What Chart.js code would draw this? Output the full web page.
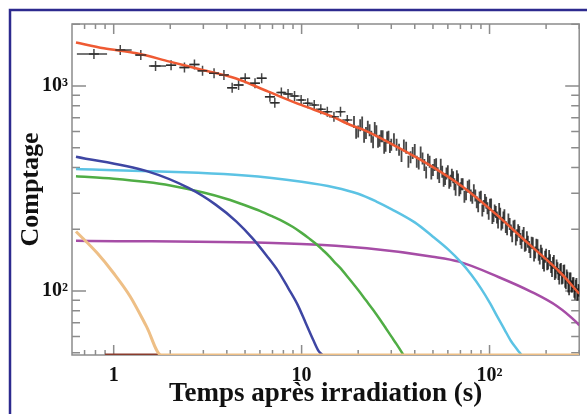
<!DOCTYPE html>
<html>
<head>
<meta charset="utf-8">
<script src="https://cdn.jsdelivr.net/npm/chart.js@4.4.1/dist/chart.umd.min.js"></script>
<style>
  html, body { margin: 0; padding: 0; background: #fff; }
  #wrap { width: 587px; height: 414px; }
</style>
</head>
<body>
<div id="wrap"><canvas id="decay" width="587" height="414"></canvas></div>
<script>
// -----------------------------
// Data
// -----------------------------
const xTickValues = [1, 10, 100];
const xTickLabels = ["1", "10", "10²"];
const yTickValues = [100, 1000];
const yTickLabels = ["10²", "10³"];
const xMinorTicks = [0.7, 0.8, 0.9, 2, 3, 4, 5, 6, 7, 8, 9, 20, 30, 40, 50, 60, 70, 80, 90, 200, 300];
const yMinorTicks = [50, 60, 70, 80, 90, 200, 300, 400, 500, 600, 700, 800, 900, 2000];

// sparse early measurements (crosses with bin widths)
const sparseT   = [0.785, 1.084, 1.394, 1.67, 2.02, 2.38, 2.69, 2.97, 3.42, 3.86, 4.27, 4.62, 5.01, 5.65, 6.13, 6.78, 7.2, 7.8, 8.47, 9.17, 9.94, 10.78, 11.67, 12.65, 13.7, 14.86, 16.1, 17.5];
const sparseC   = [1432, 1498, 1417, 1252, 1262, 1231, 1273, 1188, 1153, 1132, 981, 1011, 1090, 1031, 1090, 887, 829, 928, 914, 894, 855, 823, 808, 770, 749, 708, 749, 683];
const sparseTLo = [0.637, 1.02, 1.30, 1.54, 1.90, 2.24, 2.53, 2.80, 3.22, 3.64, 4.02, 4.35, 4.72, 5.33, 5.78, 6.39, 6.85, 7.45, 8.1, 8.8, 9.6, 10.45, 11.35, 12.3, 13.35, 14.5, 15.7, 17.1];
const sparseTHi = [0.922, 1.247, 1.49, 1.90, 2.15, 2.53, 2.86, 3.15, 3.63, 4.09, 4.53, 4.90, 5.31, 5.99, 6.50, 7.19, 7.55, 8.15, 8.85, 9.55, 10.3, 11.1, 12.0, 13.0, 14.05, 15.2, 16.5, 17.9];

// dense later measurements (two interleaved runs of bins)
const denseT = [19, 20, 21, 22, 23, 24, 25, 26, 27, 28, 29, 30, 32, 34, 36, 38, 40, 42, 44, 46, 48, 50, 52, 54, 56, 58, 60, 62, 64, 66, 68, 70, 72, 75, 78, 81, 84, 87, 90, 93, 96, 99, 102, 105, 108, 111, 114, 117, 120, 124, 128, 132, 136, 140, 144, 148, 152, 156, 160, 165, 170, 175, 180, 185, 190, 195, 200, 205, 210, 215, 220, 225, 230, 235, 240, 245, 250, 255, 260, 265, 270, 275, 280, 285, 290, 295, 300];
const denseC = [667, 599, 663, 590, 608, 532, 601, 540, 569, 511, 566, 516, 516, 456, 500, 449, 487, 418, 443, 378, 427, 389, 415, 360, 381, 352, 384, 345, 359, 312, 350, 317, 332, 296, 327, 285, 292, 259, 288, 260, 269, 238, 264, 232, 243, 216, 238, 215, 234, 200, 212, 185, 208, 187, 194, 172, 192, 168, 174, 155, 171, 154, 167, 144, 152, 133, 150, 136, 141, 125, 140, 123, 129, 115, 128, 116, 126, 109, 116, 102, 115, 105, 109, 97, 108, 96, 100];
const dense2T = [19.5, 20.5, 21.5, 22.5, 23.5, 24.5, 25.5, 26.5, 27.5, 28.5, 29.5, 31, 33, 35, 37, 39, 41, 43, 45, 47, 49, 51, 53, 55, 57, 59, 61, 63, 65, 67, 69, 71, 73.5, 76.5, 79.5, 82.5, 85.5, 88.5, 91.5, 94.5, 97.5, 100.5, 103.5, 106.5, 109.5, 112.5, 115.5, 118.5, 122, 126, 130, 134, 138, 142, 146, 150, 154, 158, 162.5, 167.5, 172.5, 177.5, 182.5, 187.5, 192.5, 197.5, 202.5, 207.5, 212.5, 217.5, 222.5, 227.5, 232.5, 237.5, 242.5, 247.5, 252.5, 257.5, 262.5, 267.5, 272.5, 277.5, 282.5, 287.5, 292.5, 297.5];
const dense2C = [592, 644, 566, 632, 566, 623, 534, 569, 499, 560, 504, 549, 488, 512, 427, 471, 427, 474, 412, 436, 374, 412, 375, 413, 345, 374, 337, 369, 332, 363, 310, 332, 288, 322, 292, 310, 271, 286, 247, 278, 253, 263, 227, 247, 228, 251, 211, 228, 205, 223, 197, 206, 178, 198, 179, 186, 166, 183, 164, 172, 149, 168, 150, 157, 137, 147, 135, 148, 131, 137, 121, 133, 121, 127, 115, 125, 111, 119, 105, 115, 105, 109, 99, 106, 96, 101];

// fitted total and components
const sumT = [0.63, 0.886, 1.325, 1.984, 2.97, 4.44, 6.65, 9.94, 14.5, 18.2, 21.4, 32, 47.8, 71.6, 107, 160, 240, 300];
const sumC = [1630, 1527, 1444, 1314, 1197, 1090, 938, 808, 710, 645, 610, 506, 412, 323, 239, 171, 122, 97];

const blueT = [0.63, 1.5, 2.5, 3.5, 4.5, 5.5, 6.5, 7.5, 8.5, 9.5, 10.5, 11.5, 12.3, 12.9];
const blueC = [452, 384, 318, 263, 218, 180, 149, 125, 103, 86, 70, 58, 51, 48.7];

const cyanT = [0.63, 5, 10, 15, 20, 25, 30, 40, 50, 60, 70, 80, 90, 100, 110, 120, 130, 140, 148];
const cyanC = [393, 366, 341, 320, 298, 273, 251, 216, 184, 160, 139, 120, 103, 88, 75, 65, 57, 52, 48.7];

const greenT = [0.63, 1, 1.5, 2, 3, 4, 5, 6, 7, 8, 9, 10, 11, 12, 13, 14, 15, 16, 18, 20, 22, 24, 26, 28, 30, 32, 34, 34.75];
const greenC = [363, 353, 340, 327, 302, 281, 262, 246, 231, 218, 205, 192, 180, 169, 158, 148, 138, 130, 114, 101, 90, 81, 73, 66, 60, 55, 50.4, 48.7];

const magentaT = [0.63, 9.94, 22.26, 49.8, 68.8, 111.5, 167, 230, 287, 300];
const magentaC = [176, 169.5, 161.5, 147, 139, 117, 99, 84, 71, 68];

const tanT = [0.63, 0.817, 1.0, 1.224, 1.496, 1.79, 10, 100, 300];
const tanC = [195, 153, 122, 94, 67, 48.7, 48.7, 48.7, 48.7];

const brownT = [0.9, 1.76];
const brownC = [48.7, 48.7];

const Y_MIN = 48.7, Y_MAX = 2006, X_MIN = 0.631, X_MAX = 300;

const pts = (xs, ys) => xs.map((x, i) => ({ x, y: ys[i] }));

// -----------------------------
// Frame, inward ticks, bin bars
// -----------------------------
const framePlugin = {
  id: "framePlugin",
  beforeDraw(chart) {
    const ctx = chart.ctx;
    ctx.save();
    ctx.fillStyle = "#fff";
    ctx.fillRect(0, 0, chart.width, chart.height);
    ctx.strokeStyle = "#2d2a8e";
    ctx.lineWidth = 2.5;
    ctx.beginPath();
    ctx.moveTo(10, chart.height + 5);
    ctx.lineTo(10, 10);
    ctx.lineTo(chart.width + 5, 10);
    ctx.stroke();
    ctx.restore();
  },
  beforeDatasetsDraw(chart) {
    const { ctx, chartArea: a, scales: { x, y } } = chart;
    ctx.save();
    ctx.strokeStyle = "#8c8c8c";
    ctx.lineWidth = 1.5;
    ctx.strokeRect(a.left, a.top, a.right - a.left, a.bottom - a.top);
    ctx.beginPath();
    const xt = (v, len) => {
      const px = x.getPixelForValue(v);
      ctx.moveTo(px, a.bottom); ctx.lineTo(px, a.bottom - len);
      ctx.moveTo(px, a.top); ctx.lineTo(px, a.top + len);
    };
    const yt = (v, len) => {
      const py = y.getPixelForValue(v);
      ctx.moveTo(a.left, py); ctx.lineTo(a.left + len, py);
      ctx.moveTo(a.right, py); ctx.lineTo(a.right - len, py);
    };
    xTickValues.forEach(v => xt(v, 10));
    xMinorTicks.forEach(v => xt(v, 5));
    yTickValues.forEach(v => yt(v, 14));
    yMinorTicks.forEach(v => yt(v, 8));
    ctx.stroke();
    ctx.restore();
  },
  afterDatasetsDraw(chart) {
    const { ctx, chartArea: a, scales: { x, y } } = chart;
    ctx.save();
    ctx.beginPath();
    ctx.rect(a.left, a.top, a.right - a.left, a.bottom - a.top);
    ctx.clip();
    ctx.strokeStyle = "rgba(40,40,40,0.85)";
    ctx.lineWidth = 1.5;
    ctx.beginPath();
    sparseT.forEach((t, i) => {
      const py = y.getPixelForValue(sparseC[i]);
      ctx.moveTo(x.getPixelForValue(sparseTLo[i]), py);
      ctx.lineTo(x.getPixelForValue(sparseTHi[i]), py);
    });
    ctx.stroke();
    ctx.restore();
  }
};

const line = (label, data, color, width) => ({
  label, data, borderColor: color, borderWidth: width || 2.5,
  pointRadius: 0, fill: false, showLine: true, cubicInterpolationMode: "monotone"
});

const dashes = (label, data) => ({
  label, data, showLine: false,
  pointStyle: "line", rotation: 90, pointRadius: 6,
  borderColor: "rgba(25,25,25,0.8)", borderWidth: 1.8
});

new Chart(document.getElementById("decay").getContext("2d"), {
  type: "scatter",
  data: {
    datasets: [
      line("tan", pts(tanT, tanC), "#eebf86", 3),
      line("brown", pts(brownT, brownC), "#8a3b2c", 3),
      line("somme", pts(sumT, sumC), "#ef5a33", 2.5),
      line("blue", pts(blueT, blueC), "#3e46a3"),
      line("green", pts(greenT, greenC), "#50ad45"),
      line("cyan", pts(cyanT, cyanC), "#5cc3e4"),
      line("magenta", pts(magentaT, magentaC), "#a64da6"),
      dashes("dense", pts(denseT, denseC)),
      dashes("dense2", pts(dense2T, dense2C)),
      {
        label: "sparse", data: pts(sparseT, sparseC), showLine: false,
        pointStyle: "cross", pointRadius: 5,
        borderColor: "rgba(40,40,40,0.85)", borderWidth: 1.5
      }
    ]
  },
  options: {
    responsive: false,
    animation: false,
    layout: { padding: { left: 0, right: 5, top: 24, bottom: 0 } },
    plugins: { legend: { display: false }, tooltip: { enabled: false } },
    scales: {
      x: {
        type: "logarithmic", min: X_MIN, max: X_MAX,
        grid: { display: false, drawTicks: false }, border: { display: false },
        afterBuildTicks: s => { s.ticks = xTickValues.map(v => ({ value: v })); },
        afterFit: s => { s.height = 59; },
        ticks: {
          padding: 9, autoSkip: false, maxRotation: 0, color: "#111",
          font: { family: "Liberation Serif", weight: "bold", size: 20 },
          callback: v => xTickLabels[xTickValues.indexOf(v)] ?? ""
        },
        title: {
          display: true, text: "Temps après irradiation (s)", color: "#111",
          font: { family: "Liberation Serif", weight: "bold", size: 27 },
          padding: { top: 0, bottom: 4 }
        }
      },
      y: {
        type: "logarithmic", min: Y_MIN, max: Y_MAX,
        grid: { display: false, drawTicks: false }, border: { display: false },
        afterBuildTicks: s => { s.ticks = yTickValues.map(v => ({ value: v })); },
        afterFit: s => { s.width = 72; },
        ticks: {
          padding: 4, autoSkip: false, color: "#111",
          font: { family: "Liberation Serif", weight: "bold", size: 20 },
          callback: v => yTickLabels[yTickValues.indexOf(v)] ?? ""
        },
        title: {
          display: true, text: "Comptage", color: "#111",
          font: { family: "Liberation Serif", weight: "bold", size: 26 },
          padding: { top: 16, bottom: 0 }
        }
      }
    }
  },
  plugins: [framePlugin]
});
</script>
</body>
</html>
